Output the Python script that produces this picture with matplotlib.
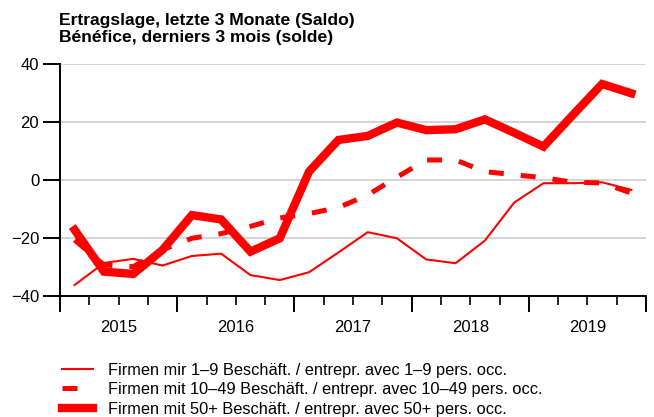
import numpy as np
import matplotlib
matplotlib.use("Agg")
import matplotlib.pyplot as plt

plt.rcParams['font.family'] = ['Liberation Sans', 'DejaVu Sans']

# quarterly data 2015Q1 .. 2019Q4
years = [2015, 2016, 2017, 2018, 2019]
small = [-36.2, -28.6, -27.2, -29.5, -26.2, -25.4, -32.8, -34.5,
         -31.8, -25.0, -18.0, -20.1, -27.4, -28.7, -20.9, -7.8,
         -1.1, -1.1, -0.8, -3.4]
medium = [-20.7, -29.3, -29.9, -24.1, -20.1, -18.5, -16.0, -13.1,
          -11.6, -9.5, -5.2, 1.0, 6.9, 6.9, 2.9, 1.8,
          0.8, -0.8, -1.0, -4.5]
large = [-17.2, -31.6, -32.4, -24.1, -12.1, -13.6, -24.7, -20.1,
         2.9, 13.8, 15.2, 19.8, 17.2, 17.5, 20.9, 16.3,
         11.5, 22.4, 33.1, 29.9]
labels = ["Firmen mir 1\u20139 Besch\u00e4ft. / entrepr. avec 1\u20139 pers. occ.",
          "Firmen mit 10\u201349 Besch\u00e4ft. / entrepr. avec 10\u201349 pers. occ.",
          "Firmen mit 50+ Besch\u00e4ft. / entrepr. avec 50+ pers. occ."]
title = "Ertragslage, letzte 3 Monate (Saldo)\nB\u00e9n\u00e9fice, derniers 3 mois (solde)"

x = [years[0] + (i + 0.5) / 4 for i in range(len(small))]

W, H = 654, 417
fig = plt.figure(figsize=(W / 100, H / 100), dpi=100)
ax = fig.add_axes([60 / W, 1 - 296 / H, 586 / W, 232 / H])

red = "#ff0000"
l1, = ax.plot(x, small, color=red, lw=1.5, label=labels[0])
l2, = ax.plot(x, medium, color=red, lw=3.6, linestyle=(0, (3.0, 3.4)),
              dash_capstyle='butt', label=labels[1])
l3, = ax.plot(x, large, color=red, lw=6.0, solid_joinstyle='miter', label=labels[2])

ax.set_xlim(2015, 2020)
ax.set_ylim(-40, 40)
ax.set_yticks([-40, -20, 0, 20, 40])
ax.grid(axis='y', color='#cccccc', lw=1.2)
ax.set_axisbelow(True)

for s in ['top', 'right']:
    ax.spines[s].set_visible(False)
for s in ['left', 'bottom']:
    ax.spines[s].set_linewidth(1.4)
    ax.spines[s].set_color('black')

# x axis: year boundaries as major ticks, quarters as minor ticks, year labels in the middle
ax.set_xticks(range(2015, 2021))
ax.set_xticklabels([])
minors = []
minor_lab = []
for y in years:
    for q in (0.25, 0.5, 0.75):
        minors.append(y + q)
        minor_lab.append(str(y) if q == 0.5 else "")
ax.set_xticks(minors, minor=True)
ax.set_xticklabels(minor_lab, minor=True)
ax.tick_params(axis='x', which='major', length=11.5, width=1.4, direction='out')
ax.tick_params(axis='x', which='minor', length=6.5, width=1.2, direction='out',
               labelsize=12, pad=10.5)
ax.tick_params(axis='y', length=12, width=1.4, direction='out', labelsize=12, pad=3)

fig.text(59 / W, 1 - 13 / H, title, ha='left', va='top', fontsize=12.6,
         fontweight='bold', linespacing=1.2)

fig.legend(handles=[l1, l2, l3], loc='upper left', bbox_to_anchor=(55 / W, 1 - 356 / H),
           frameon=False, fontsize=11.8, handlelength=1.9, handletextpad=0.95,
           labelspacing=0.28, borderaxespad=0)

fig.savefig("out.png", dpi=100)
